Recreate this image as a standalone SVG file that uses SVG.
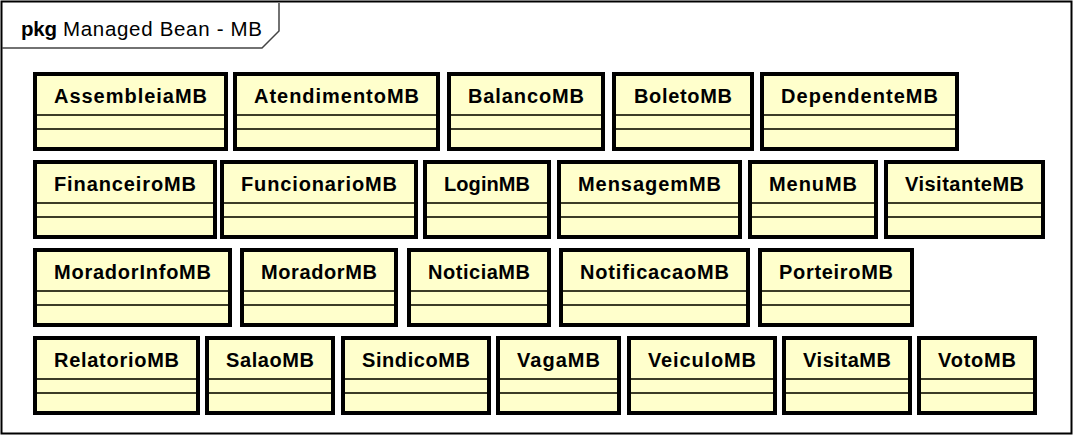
<svg xmlns="http://www.w3.org/2000/svg" width="1076" height="437" viewBox="0 0 1076 437">
<style>
.frame{fill:#fff;stroke:#000;stroke-width:2}
.tab{fill:none;stroke:#444;stroke-width:1.5}
.box{fill:#FFFFCC;stroke:#000;stroke-width:4}
.div{stroke:#3c3c28;stroke-width:2}
.t{font-family:"Liberation Sans",Arial,sans-serif;font-size:20px;font-weight:bold;fill:#000;text-anchor:middle}
.pk{font-family:"Liberation Sans",Arial,sans-serif;font-size:20.5px;fill:#000}
</style>
<rect width="1076" height="437" fill="#fff"/>
<g id="frame">
<rect class="frame" x="1.5" y="1.5" width="1070" height="432"/>
<path class="tab" d="M2 48 H262 L279 31 V3"/>
<text class="pk" x="21" y="36" font-weight="bold" textLength="36" lengthAdjust="spacing">pkg</text>
<text class="pk" x="63" y="36" textLength="199" lengthAdjust="spacing">Managed Bean - MB</text>
</g>
<g id="connectors"></g>
<g id="AssembleiaMB"><rect class="box" x="35" y="74" width="191" height="75"/><line class="div" x1="37" y1="115" x2="224" y2="115"/><line class="div" x1="37" y1="129" x2="224" y2="129"/><text class="t" x="130.5" y="103" textLength="153" lengthAdjust="spacing">AssembleiaMB</text></g>
<g id="AtendimentoMB"><rect class="box" x="235" y="74" width="203" height="75"/><line class="div" x1="237" y1="115" x2="436" y2="115"/><line class="div" x1="237" y1="129" x2="436" y2="129"/><text class="t" x="336.5" y="103" textLength="165" lengthAdjust="spacing">AtendimentoMB</text></g>
<g id="BalancoMB"><rect class="box" x="449" y="74" width="154" height="75"/><line class="div" x1="451" y1="115" x2="601" y2="115"/><line class="div" x1="451" y1="129" x2="601" y2="129"/><text class="t" x="526" y="103" textLength="116" lengthAdjust="spacing">BalancoMB</text></g>
<g id="BoletoMB"><rect class="box" x="614" y="74" width="138" height="75"/><line class="div" x1="616" y1="115" x2="750" y2="115"/><line class="div" x1="616" y1="129" x2="750" y2="129"/><text class="t" x="683" y="103" textLength="98" lengthAdjust="spacing">BoletoMB</text></g>
<g id="DependenteMB"><rect class="box" x="762" y="74" width="195" height="75"/><line class="div" x1="764" y1="115" x2="955" y2="115"/><line class="div" x1="764" y1="129" x2="955" y2="129"/><text class="t" x="859.5" y="103" textLength="157" lengthAdjust="spacing">DependenteMB</text></g>

<g id="FinanceiroMB"><rect class="box" x="35" y="162" width="180" height="75"/><line class="div" x1="37" y1="203" x2="213" y2="203"/><line class="div" x1="37" y1="217" x2="213" y2="217"/><text class="t" x="125" y="191" textLength="142" lengthAdjust="spacing">FinanceiroMB</text></g>
<g id="FuncionarioMB"><rect class="box" x="222" y="162" width="194" height="75"/><line class="div" x1="224" y1="203" x2="414" y2="203"/><line class="div" x1="224" y1="217" x2="414" y2="217"/><text class="t" x="319" y="191" textLength="156" lengthAdjust="spacing">FuncionarioMB</text></g>
<g id="LoginMB"><rect class="box" x="425" y="162" width="124" height="75"/><line class="div" x1="427" y1="203" x2="547" y2="203"/><line class="div" x1="427" y1="217" x2="547" y2="217"/><text class="t" x="487" y="191" textLength="86" lengthAdjust="spacing">LoginMB</text></g>
<g id="MensagemMB"><rect class="box" x="559" y="162" width="181" height="75"/><line class="div" x1="561" y1="203" x2="738" y2="203"/><line class="div" x1="561" y1="217" x2="738" y2="217"/><text class="t" x="649.5" y="191" textLength="143" lengthAdjust="spacing">MensagemMB</text></g>
<g id="MenuMB"><rect class="box" x="750" y="162" width="126" height="75"/><line class="div" x1="752" y1="203" x2="874" y2="203"/><line class="div" x1="752" y1="217" x2="874" y2="217"/><text class="t" x="813" y="191" textLength="88" lengthAdjust="spacing">MenuMB</text></g>
<g id="VisitanteMB"><rect class="box" x="886" y="162" width="157" height="75"/><line class="div" x1="888" y1="203" x2="1041" y2="203"/><line class="div" x1="888" y1="217" x2="1041" y2="217"/><text class="t" x="964.5" y="191" textLength="119" lengthAdjust="spacing">VisitanteMB</text></g>

<g id="MoradorInfoMB"><rect class="box" x="35" y="250" width="195" height="75"/><line class="div" x1="37" y1="291" x2="228" y2="291"/><line class="div" x1="37" y1="305" x2="228" y2="305"/><text class="t" x="132.5" y="279" textLength="157" lengthAdjust="spacing">MoradorInfoMB</text></g>
<g id="MoradorMB"><rect class="box" x="242" y="250" width="154" height="75"/><line class="div" x1="244" y1="291" x2="394" y2="291"/><line class="div" x1="244" y1="305" x2="394" y2="305"/><text class="t" x="319" y="279" textLength="116" lengthAdjust="spacing">MoradorMB</text></g>
<g id="NoticiaMB"><rect class="box" x="409" y="250" width="140" height="75"/><line class="div" x1="411" y1="291" x2="547" y2="291"/><line class="div" x1="411" y1="305" x2="547" y2="305"/><text class="t" x="479" y="279" textLength="102" lengthAdjust="spacing">NoticiaMB</text></g>
<g id="NotificacaoMB"><rect class="box" x="561" y="250" width="187" height="75"/><line class="div" x1="563" y1="291" x2="746" y2="291"/><line class="div" x1="563" y1="305" x2="746" y2="305"/><text class="t" x="654.5" y="279" textLength="149" lengthAdjust="spacing">NotificacaoMB</text></g>
<g id="PorteiroMB"><rect class="box" x="760" y="250" width="152" height="75"/><line class="div" x1="762" y1="291" x2="910" y2="291"/><line class="div" x1="762" y1="305" x2="910" y2="305"/><text class="t" x="836" y="279" textLength="114" lengthAdjust="spacing">PorteiroMB</text></g>

<g id="RelatorioMB"><rect class="box" x="35" y="338" width="163" height="75"/><line class="div" x1="37" y1="379" x2="196" y2="379"/><line class="div" x1="37" y1="393" x2="196" y2="393"/><text class="t" x="116.5" y="367" textLength="125" lengthAdjust="spacing">RelatorioMB</text></g>
<g id="SalaoMB"><rect class="box" x="207" y="338" width="126" height="75"/><line class="div" x1="209" y1="379" x2="331" y2="379"/><line class="div" x1="209" y1="393" x2="331" y2="393"/><text class="t" x="270" y="367" textLength="88" lengthAdjust="spacing">SalaoMB</text></g>
<g id="SindicoMB"><rect class="box" x="343" y="338" width="146" height="75"/><line class="div" x1="345" y1="379" x2="487" y2="379"/><line class="div" x1="345" y1="393" x2="487" y2="393"/><text class="t" x="416" y="367" textLength="108" lengthAdjust="spacing">SindicoMB</text></g>
<g id="VagaMB"><rect class="box" x="498" y="338" width="121" height="75"/><line class="div" x1="500" y1="379" x2="617" y2="379"/><line class="div" x1="500" y1="393" x2="617" y2="393"/><text class="t" x="558.5" y="367" textLength="83" lengthAdjust="spacing">VagaMB</text></g>
<g id="VeiculoMB"><rect class="box" x="629" y="338" width="146" height="75"/><line class="div" x1="631" y1="379" x2="773" y2="379"/><line class="div" x1="631" y1="393" x2="773" y2="393"/><text class="t" x="702" y="367" textLength="108" lengthAdjust="spacing">VeiculoMB</text></g>
<g id="VisitaMB"><rect class="box" x="784" y="338" width="126" height="75"/><line class="div" x1="786" y1="379" x2="908" y2="379"/><line class="div" x1="786" y1="393" x2="908" y2="393"/><text class="t" x="847" y="367" textLength="88" lengthAdjust="spacing">VisitaMB</text></g>
<g id="VotoMB"><rect class="box" x="919" y="338" width="116" height="75"/><line class="div" x1="921" y1="379" x2="1033" y2="379"/><line class="div" x1="921" y1="393" x2="1033" y2="393"/><text class="t" x="977" y="367" textLength="78" lengthAdjust="spacing">VotoMB</text></g>
</svg>
